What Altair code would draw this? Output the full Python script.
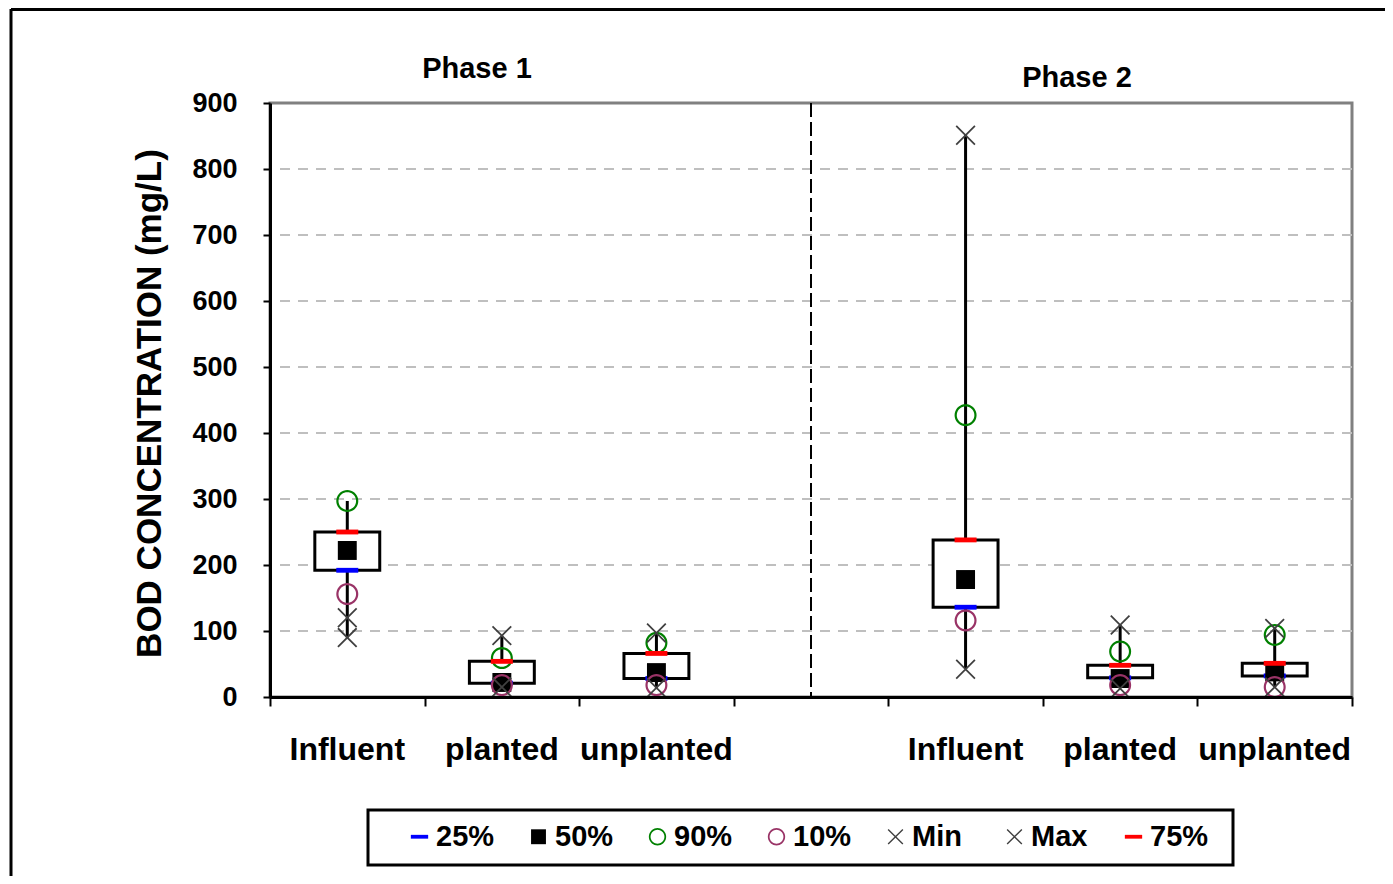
import math
import altair as alt
import pandas as pd

# ---------------- data ----------------
phases = ["Phase 1", "Phase 1", "Phase 1", "Phase 2", "Phase 2", "Phase 2"]
groups = ["Influent", "planted", "unplanted", "Influent", "planted", "unplanted"]
p25 = [192, 21, 28, 136, 29, 32]
p50 = [222, 22, 37, 178, 28, 38]
p90 = [297, 59, 82, 427, 69, 94]
p10 = [156, 18, 18, 116, 18, 15]
vmin = [90, 15, 14, 42, 13, 15]
vmax = [120, 93, 97, 851, 109, 104]
p75 = [250, 54, 66, 238, 48, 51]

series_names = ["25%", "50%", "90%", "10%", "Min", "Max", "75%"]
series_colors = ["#0000FF", "#000000", "#008000", "#993366", "#404040", "#404040", "#FF0000"]
y_ticks = [0, 100, 200, 300, 400, 500, 600, 700, 800, 900]
grid_values = [100, 200, 300, 400, 500, 600, 700, 800]
slot_order = ["Phase 1|Influent", "Phase 1|planted", "Phase 1|unplanted", "",
              "Phase 2|Influent", "Phase 2|planted", "Phase 2|unplanted"]
y_title = "BOD CONCENTRATION (mg/L)"

FONT = "Liberation Sans"
W, H = 1082, 594


# ---------------- marker shapes (unit box -1..1) ----------------
def ring(r_out, r_in, n=36):
    outer = [(r_out * math.cos(2 * math.pi * k / n), r_out * math.sin(2 * math.pi * k / n)) for k in range(n)]
    inner = [(r_in * math.cos(-2 * math.pi * k / n), r_in * math.sin(-2 * math.pi * k / n)) for k in range(n)]
    def poly(pts):
        return "M" + "L".join(f"{x:.3f},{y:.3f}" for x, y in pts) + "Z"
    return poly(outer) + poly(inner)


def bar(p, q, t):
    dx, dy = q[0] - p[0], q[1] - p[1]
    ln = math.hypot(dx, dy)
    nx, ny = -dy / ln * t, dx / ln * t
    pts = [(p[0] + nx, p[1] + ny), (q[0] + nx, q[1] + ny), (q[0] - nx, q[1] - ny), (p[0] - nx, p[1] - ny)]
    return "M" + "L".join(f"{x:.3f},{y:.3f}" for x, y in pts) + "Z"


dash = "M-1,-0.22L1,-0.22L1,0.22L-1,0.22Z"
square = "M-0.86,-0.86L0.86,-0.86L0.86,0.86L-0.86,0.86Z"
circ = ring(1.0, 0.8)
xmark = bar((-0.85, -0.85), (0.85, 0.85), 0.08) + bar((-0.85, 0.85), (0.85, -0.85), 0.08)
series_shapes = [dash, square, circ, circ, xmark, xmark, dash]

# ---------------- tables ----------------
slots = [slot_order.index(f"{p}|{g}") + 0.5 for p, g in zip(phases, groups)]
stats = [p25, p50, p90, p10, vmin, vmax, p75]

boxes = pd.DataFrame({"phase": phases, "group": groups, "slot": slots,
                      "p25": p25, "p75": p75})
boxes["lo"] = [min(v) for v in zip(*stats)]
boxes["hi"] = [max(v) for v in zip(*stats)]

rows = []
for name, vals in zip(series_names, stats):
    for s, v in zip(slots, vals):
        rows.append({"series": name, "slot": s, "value": v})
points = pd.DataFrame(rows)

grid_df = pd.DataFrame({"v": grid_values})
divider_df = pd.DataFrame({"x": [slot_order.index("") + 0.5]})
one = pd.DataFrame({"a": [0]})

xscale = alt.Scale(domain=[0, len(slot_order)], nice=False, zero=False)
yscale = alt.Scale(domain=[0, 900], nice=False, zero=True)

x_axis = alt.Axis(values=list(range(len(slot_order) + 1)), labels=False, title=None,
                  tickSize=9, tickWidth=2, tickColor="black", domainColor="black",
                  domainWidth=3, grid=False, zindex=1)
y_axis = alt.Axis(values=y_ticks, title=y_title, grid=False, zindex=1,
                  labelFont=FONT, labelFontSize=27, labelFontWeight="bold", labelColor="black",
                  labelPadding=26, tickSize=7, tickWidth=2, tickColor="black",
                  domainColor="black", domainWidth=3,
                  titleFont=FONT, titleFontSize=35, titleFontWeight="bold", titleColor="black",
                  titleAngle=270, titleX=-110, titleY=300, titleBaseline="alphabetic",
                  titleAlign="center")


def X(field):
    return alt.X(field, scale=xscale, axis=x_axis, title=None)


def Y(field):
    return alt.Y(field, scale=yscale, axis=y_axis, title=y_title)


grid = alt.Chart(grid_df).mark_rule(stroke="#BFBFBF", strokeWidth=2, strokeDash=[10, 8]).encode(
    y=Y("v:Q")
)

divider = alt.Chart(divider_df).mark_rule(stroke="black", strokeWidth=2, strokeDash=[14, 5]).encode(
    x=X("x:Q")
)

whisk = alt.Chart(boxes).mark_rule(stroke="black", strokeWidth=3).encode(
    x=X("slot:Q"),
    y=Y("lo:Q"),
    y2="hi:Q",
)

box = alt.Chart(boxes).transform_calculate(
    xa="datum.slot - 0.21", xb="datum.slot + 0.21"
).mark_rect(fill="white", stroke="black", strokeWidth=3).encode(
    x=X("xa:Q"),
    x2="xb:Q",
    y=Y("p25:Q"),
    y2="p75:Q",
)

legend = alt.Legend(title=None, orient="none", legendX=135, legendY=719,
                    direction="horizontal", columns=7, gridAlign="all",
                    symbolSize=300, symbolStrokeWidth=0, symbolOpacity=1,
                    labelFont=FONT, labelFontSize=29, labelFontWeight="bold",
                    labelColor="black", labelOffset=2, columnPadding=29, padding=0)

pts = alt.Chart(points).mark_point(filled=True, size=484, opacity=1, strokeWidth=0).encode(
    x=X("slot:Q"),
    y=Y("value:Q"),
    shape=alt.Shape("series:N", scale=alt.Scale(domain=series_names, range=series_shapes), legend=legend),
    color=alt.Color("series:N", scale=alt.Scale(domain=series_names, range=series_colors), legend=legend),
)

cat_labels = alt.Chart(boxes).mark_text(font=FONT, fontSize=32, fontWeight="bold",
                                        color="black", baseline="alphabetic", align="center").encode(
    x=X("slot:Q"),
    y=alt.value(657),
    text="group:N",
)

ph1 = alt.Chart(one).mark_text(text="Phase 1", font=FONT, fontSize=29, fontWeight="bold",
                               color="black", baseline="alphabetic", align="center").encode(
    x=alt.value(207), y=alt.value(-25))
ph2 = alt.Chart(one).mark_text(text="Phase 2", font=FONT, fontSize=29, fontWeight="bold",
                               color="black", baseline="alphabetic", align="center").encode(
    x=alt.value(807), y=alt.value(-16))

frame_left = alt.Chart(one).mark_rule(stroke="black", strokeWidth=3).encode(
    x=alt.value(-259), y=alt.value(-94), y2=alt.value(800))
frame_top = alt.Chart(one).mark_rule(stroke="black", strokeWidth=3).encode(
    x=alt.value(-259), x2=alt.value(1200), y=alt.value(-93.5))

legend_box = alt.Chart(one).mark_rect(fill="white", stroke="black", strokeWidth=3).encode(
    x=alt.value(98), x2=alt.value(963), y=alt.value(707), y2=alt.value(762))

chart = alt.layer(
    grid, divider, whisk, box, pts, cat_labels, ph1, ph2, frame_left, frame_top, legend_box
).properties(
    width=W, height=H,
    autosize=alt.AutoSizeParams(type="none"),
    padding={"left": 262, "top": 95, "right": 33, "bottom": 179},
    background="white",
).configure_view(stroke="#808080", strokeWidth=3)

chart.save("out.html", embed_options={"renderer": "svg", "actions": False})
